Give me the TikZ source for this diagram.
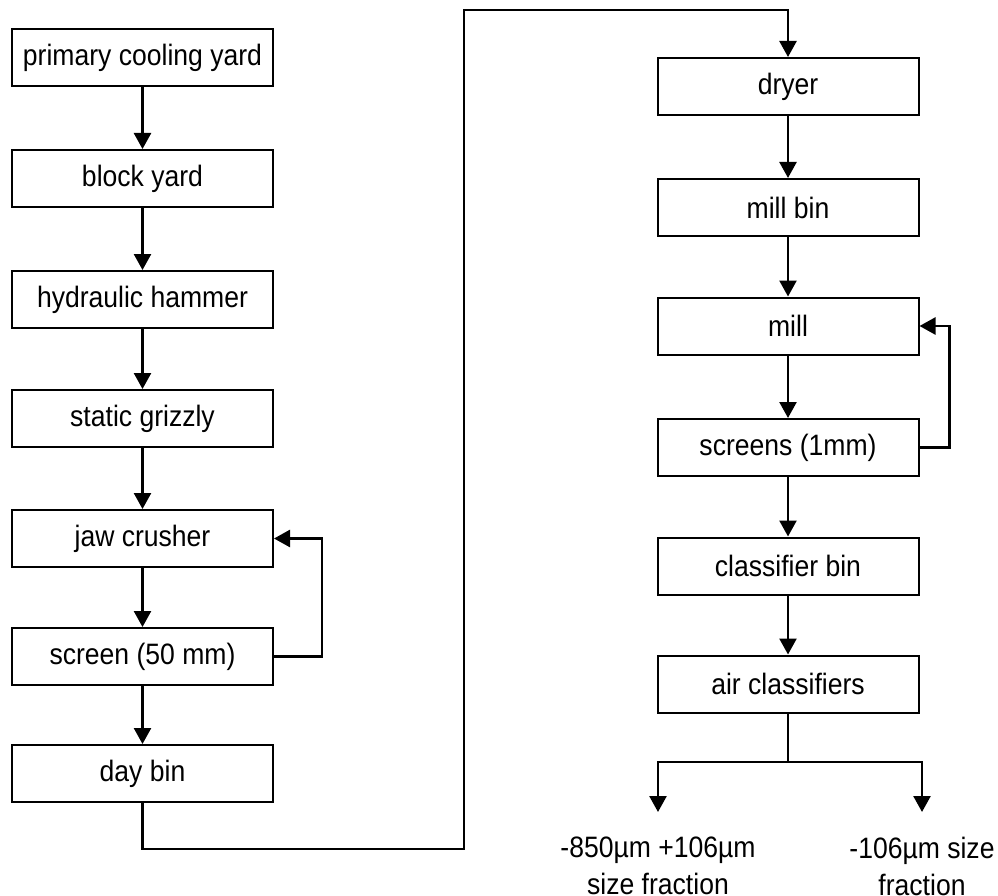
\documentclass[tikz,border=0pt]{standalone}
\usepackage{fontspec}
\setmainfont{Liberation Sans}[FakeStretch=0.9]
\usetikzlibrary{arrows.meta}
\begin{document}
\begin{tikzpicture}[x=1pt,y=-1pt,
  box/.style={draw, line width=2pt, minimum width=261pt, minimum height=57pt, inner sep=0pt,
    font=\fontsize{29.5pt}{37pt}\selectfont},
  lbl/.style={inner sep=0pt, align=center, anchor=north, font=\fontsize{29.5pt}{37pt}\selectfont},
  flow/.style={line width=2.5pt, -{Triangle[width=17pt,length=16pt]}},
  plain/.style={line width=2.5pt}]
\useasboundingbox (0,0) rectangle (998,896);
% left column
\node[box] (pcy) at (142.5,57.5) {primary cooling yard};
\node[box] (by)  at (142.5,178.5) {block yard};
\node[box] (hh)  at (142.5,299.5) {hydraulic hammer};
\node[box] (sg)  at (142.5,418.5) {static grizzly};
\node[box] (jc)  at (142.5,538.5) {jaw crusher};
\node[box] (sc)  at (142.5,656.5) {screen (50 mm)};
\node[box] (db)  at (142.5,773.5) {day bin};
% right column
\node[box] (dr)  at (788,86.5) {dryer};
\node[box] (mb)  at (788,207.5) {mill bin};
\node[box] (ml)  at (788,326) {mill};
\node[box] (scr) at (788,447.5) {screens (1mm)};
\node[box] (cb)  at (788,566) {classifier bin};
\node[box] (ac)  at (788,684) {air classifiers};
% outputs
\node[lbl] (o1) at (658,837) {-850µm +106µm\\size fraction};
\node[lbl] (o2) at (922,837) {-106µm size\\fraction};
% connectors left
\draw[flow] (pcy) -- (by);
\draw[flow] (by) -- (hh);
\draw[flow] (hh) -- (sg);
\draw[flow] (sg) -- (jc);
\draw[flow] (jc) -- (sc);
\draw[flow] (sc) -- (db);
\draw[flow] (sc.east) -- ++(48,0) |- (jc.east);
% transfer
\coordinate (t1) at (464,849);
\coordinate (t2) at (464,10);
\draw[flow] (db.south) |- (t1) -- (t2) -| (dr.north);
% connectors right
\draw[flow] (dr) -- (mb);
\draw[flow] (mb) -- (ml);
\draw[flow] (ml) -- (scr);
\draw[flow] (scr) -- (cb);
\draw[flow] (cb) -- (ac);
\draw[flow] (scr.east) -- ++(30,0) |- (ml.east);
\coordinate (br) at (788,762);
\draw[plain] (ac.south) -- (br);
\draw[flow, shorten >=25pt] (br) -| (o1.north);
\draw[flow, shorten >=25pt] (br) -| (o2.north);
\end{tikzpicture}
\end{document}
